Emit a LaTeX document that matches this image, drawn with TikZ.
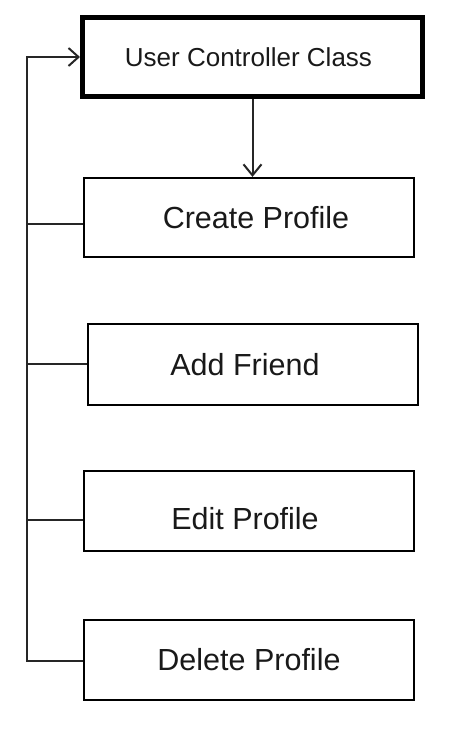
\documentclass[tikz,border=0pt]{standalone}
\usepackage{fontspec}
\setmainfont{Liberation Sans}
\usetikzlibrary{arrows.meta}

\begin{document}
\begin{tikzpicture}[x=1pt,y=-1pt,
    item/.style={draw, line width=2.2pt, minimum width=330pt, minimum height=80pt, inner sep=0pt,
        font=\fontsize{30.5}{36}\selectfont, text=black!90},
    link/.style={line width=2pt, draw=black!85}]
    \useasboundingbox (0,0) rectangle (465,732);

    % Class box
    \node [item, line width=5pt, minimum width=340pt, minimum height=79pt,
        font=\fontsize{26}{30}\selectfont] (ucc) at (252.5,57) {User Controller Class\kern8pt};

    % Method boxes
    \node [item, minimum height=79pt] (create) at (249,217.5) {\kern14pt Create Profile};
    \node [item, minimum height=81pt] (friend) at (253,364.5) {Add Friend\kern16pt};
    \node [item] (edit) at (249,511) {\raisebox{-8pt}[\height][\depth]{Edit Profile}\kern8pt};
    \node [item] (delete) at (249,660) {Delete Profile};

    % Spine
    \coordinate (top) at (27,57);
    \coordinate (bottom) at (27,661);

    % Connectors
    \draw [link, -{Straight Barb[length=11pt,width=18pt]}] (ucc.south) -- (ucc.south |- create.north);
    \draw [link, {Straight Barb[length=10pt,width=18pt]}-] (ucc.west) -- (top) -- (bottom) -- (bottom -| delete.west);
    \foreach \n/\y in {create/224, friend/364, edit/520} {
        \coordinate (\n join) at (27,\y);
        \draw [link] (\n join) -- (\n join -| \n.west);
    }

\end{tikzpicture}
\end{document}
